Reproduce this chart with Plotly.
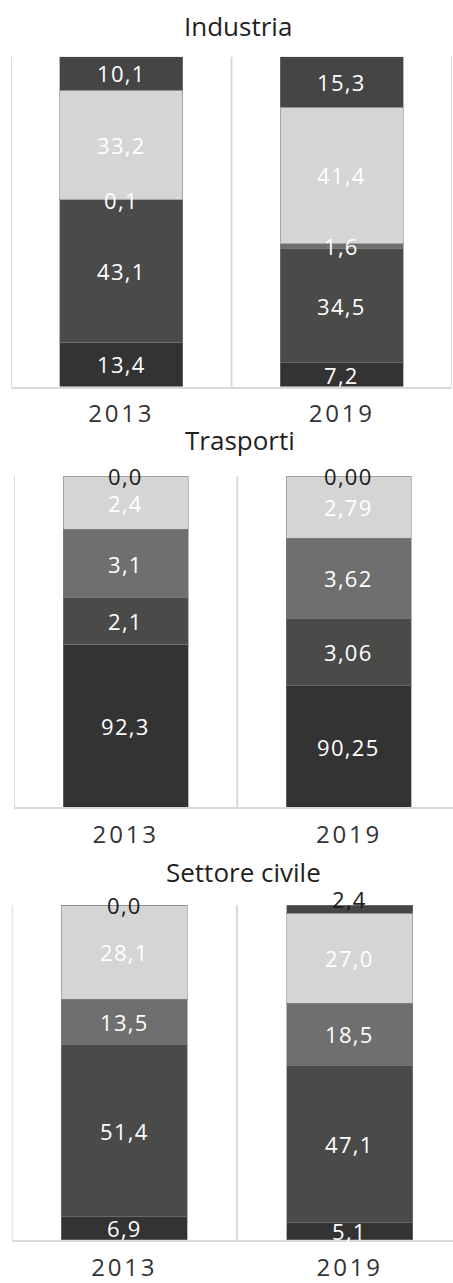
import plotly.graph_objects as go

YEARS = ["2013", "2019"]
SECTORS = ["Industria", "Trasporti", "Settore civile"]

# Share of each source (%), bottom segment first; one [2013, 2019] pair per source
INDUSTRIA = [[13.4, 7.2], [43.1, 34.5], [0.1, 1.6], [33.2, 41.4], [10.1, 15.3]]
TRASPORTI = [[92.3, 90.25], [2.1, 3.06], [3.1, 3.62], [2.4, 2.79], [0.0, 0.00]]
SETTORE_CIVILE = [[6.9, 5.1], [51.4, 47.1], [13.5, 18.5], [28.1, 27.0], [0.0, 2.4]]

# Decimals printed in the labels of each bar
DECIMALS = {"Industria": [1, 1], "Trasporti": [1, 2], "Settore civile": [1, 1]}
# Lower bound of the percentage axis of each panel
AXIS_FLOOR = {"Industria": 0, "Trasporti": 85, "Settore civile": 0}

DATA = {"Industria": INDUSTRIA, "Trasporti": TRASPORTI, "Settore civile": SETTORE_CIVILE}
COLORS = ["#333333", "#4a4a49", "#6f6f6f", "#d5d5d5", "#454545"]

W, H = 453, 1283
FONT = "Open Sans"
GRID = "#d9d9d9"

# panel geometry in pixels (top/bottom of plot area, left edge, width of one category)
PANELS = [
    dict(top=57, bottom=389, left=11, cat_w=220.5, title=(237.5, 26)),
    dict(top=479.3, bottom=812.3, left=14, cat_w=223.3, title=(240, 443)),
    dict(top=910.7, bottom=1247.7, left=11.7, cat_w=225.3, title=(243.5, 877)),
]


def fmt(v, d):
    return f"{v:.{d}f}".replace(".", ",")


fig = go.Figure()
annotations = []
shapes = []
layout_axes = {}

for i, (sector, geo) in enumerate(zip(SECTORS, PANELS)):
    n = i + 1
    suffix = "" if n == 1 else str(n)
    xa, ya = f"x{suffix}", f"y{suffix}"
    xkey, ykey = f"xaxis{suffix}", f"yaxis{suffix}"
    series = DATA[sector]
    floor = AXIS_FLOOR[sector]

    for k, vals in enumerate(series):
        fig.add_trace(go.Bar(
            x=YEARS, y=vals, xaxis=xa, yaxis=ya,
            marker=dict(color=COLORS[k], line=dict(color="rgba(128,128,128,0.55)", width=1)),
            showlegend=False, hoverinfo="skip",
        ))

    right = min(W, geo["left"] + 2 * geo["cat_w"])
    x_end = -0.5 + (right - geo["left"]) / geo["cat_w"]
    layout_axes[xkey] = dict(
        domain=[geo["left"] / W, right / W], range=[-0.5, x_end], anchor=ya,
        type="category", showgrid=False, zeroline=False,
        showline=True, linecolor=GRID, linewidth=2, ticks="",
        tickmode="array", tickvals=YEARS,
        ticktext=[f"<span style='letter-spacing:2.8px'>{y}</span>" for y in YEARS],
        tickfont=dict(family=FONT, size=24, color="#333333"),
        ticklabelstandoff=5, fixedrange=True,
    )
    layout_axes[ykey] = dict(
        domain=[1 - geo["bottom"] / H, 1 - geo["top"] / H], range=[floor, 100],
        anchor=xa, visible=False, showgrid=False, zeroline=False, fixedrange=True,
    )

    # separators between categories
    for b in (-0.5, 0.5, 1.5):
        if b <= x_end + 1e-9:
            shapes.append(dict(type="line", xref=xa, yref=f"{ya} domain", x0=b, x1=b,
                               y0=0, y1=1, line=dict(color=GRID, width=2), layer="below"))

    # segment labels, placed on the normalised (100 %) stack
    for j, year in enumerate(YEARS):
        total = sum(s[j] for s in series)
        cum = 0.0
        for k, s in enumerate(series):
            v = s[j]
            lo = cum / total * 100
            hi = (cum + v) / total * 100
            cum += v
            center = min(100.0, (max(lo, floor) + min(hi, 100.0)) / 2)
            outside = k == len(series) - 1 and (hi - lo) < 5
            color = "#1a1a1a" if outside else "#ffffff"
            shift = 10 if (outside and v > 0) else 0
            annotations.append(dict(
                x=j, y=center, xref=xa, yref=ya, showarrow=False,
                text=f"<span style='letter-spacing:1.3px'>{fmt(v, DECIMALS[sector][j])}</span>",
                font=dict(family=FONT, size=22, color=color),
                xanchor="center", yanchor="middle", yshift=shift,
            ))

    tx, ty = geo["title"]
    annotations.append(dict(
        x=tx / W, y=1 - ty / H, xref="paper", yref="paper", showarrow=False,
        text=sector, font=dict(family=FONT, size=26, color="#1f1f1f"),
        xanchor="center", yanchor="middle",
    ))

fig.update_layout(
    width=W, height=H, margin=dict(l=0, r=0, t=0, b=0),
    paper_bgcolor="white", plot_bgcolor="white",
    barmode="stack", barnorm="percent", bargap=0.44,
    annotations=annotations, shapes=shapes,
    **layout_axes,
)

fig.write_html("out.html")
